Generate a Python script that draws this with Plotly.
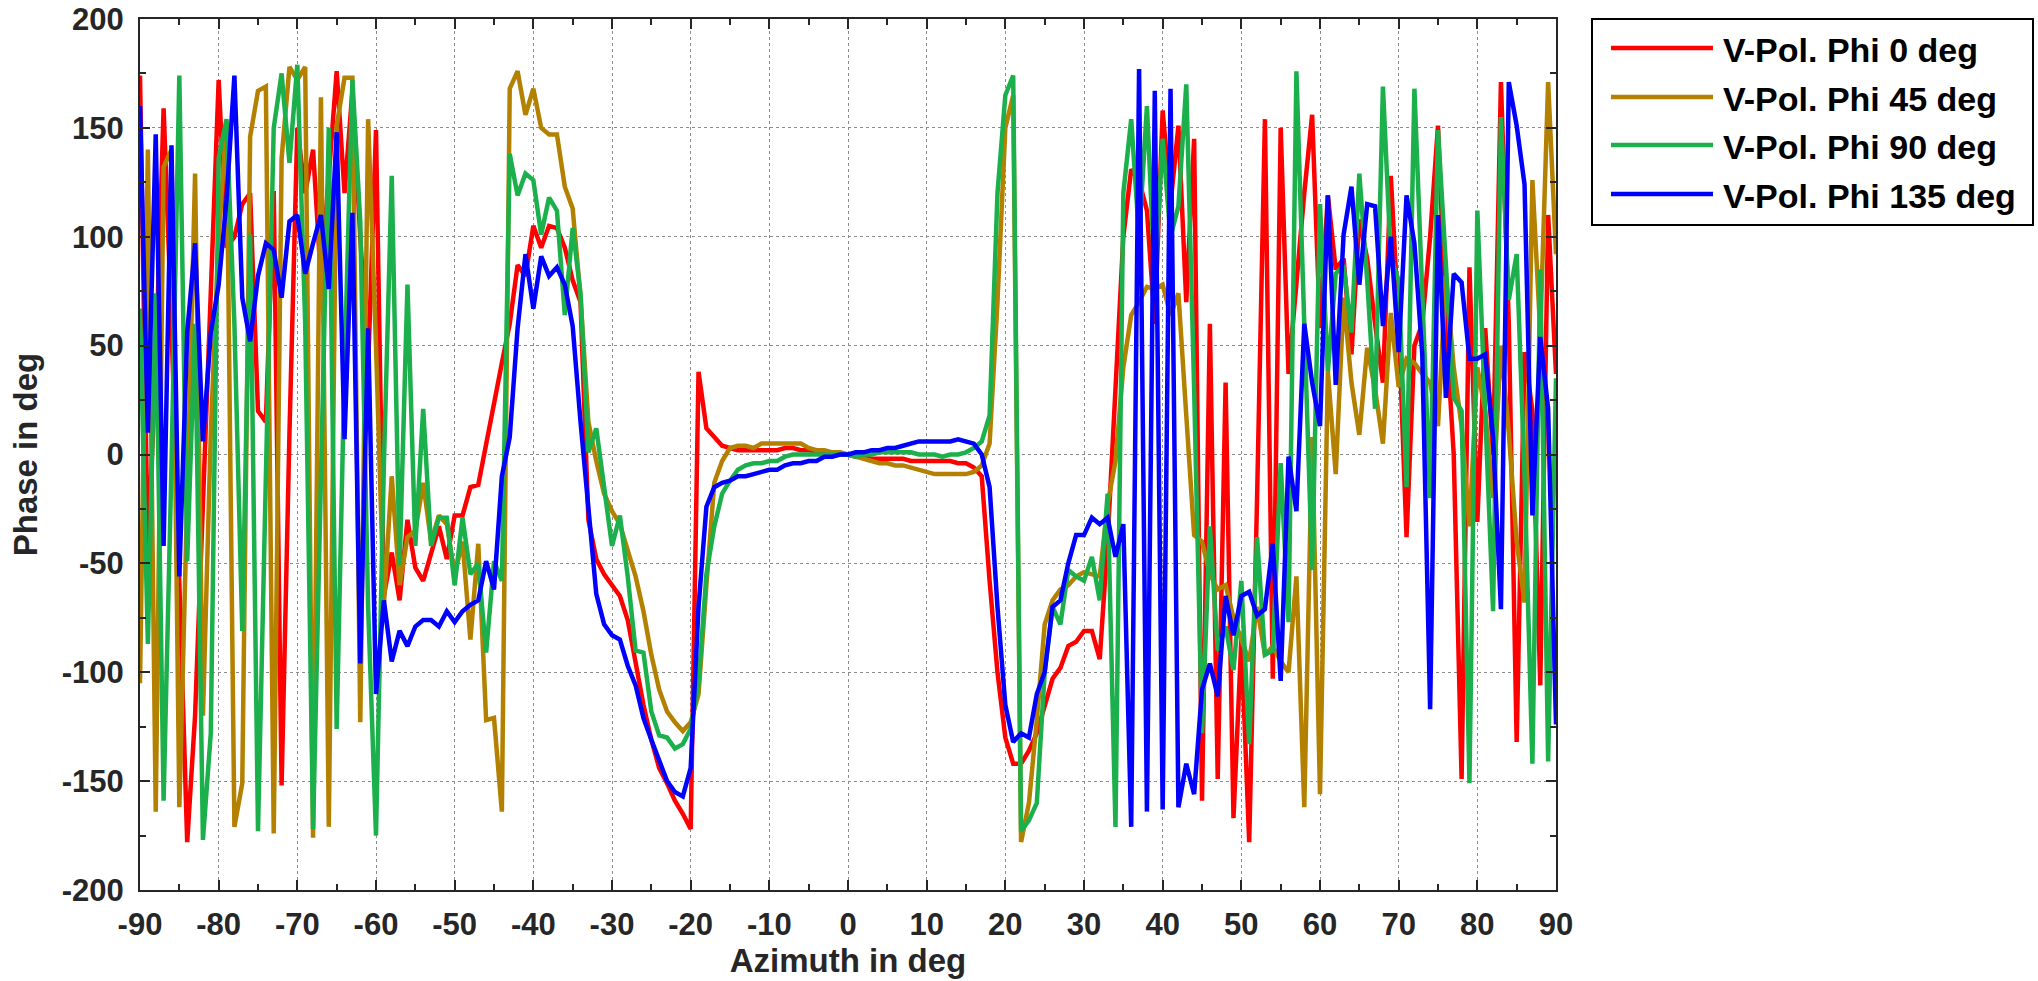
import plotly.graph_objects as go

# ---------------- data ----------------
azimuth_deg = list(range(-90, 91))

phase_phi0 = [
    174, -45, 40, 159, 60, -60, -178, -120, -20, 80,
    172, 95, 100, 115, 120, 20, 15, 121, -152, 10,
    150, 120, 140, 80, 130, 176, 120, 167, 100, 40,
    149, -65, -45, -67, -30, -52, -58, -45, -33, -48,
    -28, -28, -15, -14, 5, 25, 42, 60, 87, 82,
    105, 95, 105, 104, 95, 80, 70, -30, -48, -55,
    -60, -65, -76, -97, -115, -131, -144, -151, -159, -165,
    -172, 38, 12, 8, 4, 3, 2, 2, 2, 2,
    2, 2, 3, 3, 2, 2, 1, 1, 1, 0,
    0, -1, -1, -2, -2, -2, -2, -2, -3, -3,
    -3, -3, -3, -3, -4, -4, -6, -10, -58, -100,
    -130, -142, -142, -136, -128, -115, -103, -98, -88, -86,
    -81, -81, -94, -40, 30, 100, 131, 126, 112, 60,
    158, 115, 151, 70, 145, -159, 60, -149, 33, -167,
    -85, -178, -20, 154, -103, 150, 37, 80, 120, 156,
    58, 119, 85, 90, 46, 108, 90, 60, 33, 128,
    60, -38, 50, 60, 100, 151, 60, 0, -149, 86,
    -31, 58, 0, 171, 60, -132, 47, 20, -106, 110,
    37,
]

phase_phi45 = [
    -105, 140, -164, 132, 140, -162, -20, 129, -120, 10,
    100, 153, -171, -151, 146, 167, 169, -174, 136, 178,
    172, 178, -176, 164, -171, 151, 173, 173, -123, 154,
    50, -69, -10, -60, -38, -35, -13, -40, -28, -32,
    -55, -40, -85, -41, -122, -121, -164, 168, 176, 156,
    168, 150, 147, 147, 123, 113, 72, 15, -3, -18,
    -26, -32, -44, -56, -72, -92, -108, -118, -123, -127,
    -123, -110, -60, -13, -3, 3, 4, 4, 3, 5,
    5, 5, 5, 5, 5, 3, 2, 2, 1, 1,
    0, -1, -2, -3, -4, -4, -5, -5, -6, -7,
    -8, -9, -9, -9, -9, -9, -8, -5, 5, 70,
    150, 165, -178, -160, -122, -78, -67, -62, -60, -56,
    -54, -55, -56, -23, -3, 40, 64, 70, 77, 76,
    78, 64, 74, 18, -37, -40, -55, -62, -60, -75,
    -85, -95, -70, -92, -88, -95, -100, -56, -162, 8,
    -156, 38, -9, 72, 33, 9, 49, 30, 5, 65,
    31, 44, 42, 37, 33, 13, 82, 40, 13, -33,
    40, 20, -20, 50, 10, -40, -68, 126, 56, 171,
    92,
]

phase_phi90 = [
    67, -87, 74, -159, -5, 174, -49, 60, -177, -128,
    136, 154, 60, -81, 101, -173, -10, 150, 175, 134,
    179, 60, -172, -20, 150, -126, 40, 172, 107, -70,
    -175, -5, 128, -51, 78, -42, 21, -42, -29, -29,
    -60, -29, -55, -50, -91, -49, -58, 138, 119, 129,
    126, 101, 118, 112, 64, 104, 74, 1, 12, -15,
    -42, -28, -56, -90, -91, -118, -129, -130, -135, -133,
    -126, -105, -55, -33, -18, -12, -7, -5, -4, -4,
    -3, -3, -1, 0, 0, 0, 0, 0, 0, 0,
    0, -1, 0, 0, 1, 1, 1, 1, 1, 0,
    0, 0, -1, 0, 0, 1, 3, 6, 18, 120,
    165, 174, -173, -168, -160, -100, -70, -78, -53, -56,
    -58, -47, -67, -18, -171, 120, 154, 100, 160, 80,
    145, 100, 114, 170, 30, -128, -33, -90, -79, -99,
    -58, -133, -38, -92, -90, -4, -77, 176, 60, -53,
    115, 38, 83, 87, 56, 129, 80, 21, 169, 90,
    80, -15, 168, 80, -20, 149, 90, 26, 20, -151,
    112, 20, -72, 155, 71, 92, -10, -142, 85, -141,
    35,
]

phase_phi135 = [
    160, 10, 147, -42, 142, -56, 56, 97, 6, 56,
    78, 117, 174, 72, 52, 82, 97, 94, 72, 107,
    110, 83, 97, 110, 76, 148, 7, 111, -96, 58,
    -110, -67, -95, -81, -88, -79, -76, -76, -79, -72,
    -77, -72, -69, -67, -49, -62, -10, 8, 58, 92,
    67, 91, 82, 86, 78, 59, 15, -25, -64, -78,
    -83, -85, -97, -106, -121, -131, -141, -150, -155, -157,
    -144, -70, -24, -15, -13, -12, -10, -10, -9, -8,
    -7, -7, -5, -4, -4, -3, -3, -1, -1, 0,
    0, 1, 1, 2, 2, 3, 3, 4, 5, 6,
    6, 6, 6, 6, 7, 6, 5, 0, -15, -70,
    -115, -132, -128, -130, -110, -100, -70, -67, -50, -37,
    -37, -29, -32, -29, -47, -32, -171, 177, -164, 167,
    -163, 168, -162, -142, -156, -108, -96, -111, -65, -83,
    -65, -63, -74, -71, -41, -104, -1, -26, 60, 33,
    13, 119, 32, 101, 123, 78, 115, 114, 59, 100,
    47, 119, 97, 46, -117, 110, 26, 83, 79, 44,
    44, 46, 8, -71, 171, 151, 124, -28, 54, 21,
    -124,
]

series_names = ["V-Pol. Phi 0 deg", "V-Pol. Phi 45 deg",
                "V-Pol. Phi 90 deg", "V-Pol. Phi 135 deg"]
series_values = [phase_phi0, phase_phi45, phase_phi90, phase_phi135]

x_tick_values = [-90, -80, -70, -60, -50, -40, -30, -20, -10, 0, 10, 20, 30, 40, 50, 60, 70, 80, 90]
x_tick_labels = ["-90", "-80", "-70", "-60", "-50", "-40", "-30", "-20", "-10", "0",
                 "10", "20", "30", "40", "50", "60", "70", "80", "90"]
y_tick_values = [-200, -150, -100, -50, 0, 50, 100, 150, 200]
y_tick_labels = ["-200", "-150", "-100", "-50", "0", "50", "100", "150", "200"]

x_title = "Azimuth in deg"
y_title = "Phase in deg"

for s in series_values:
    assert len(s) == len(azimuth_deg)

# ---------------- style ----------------
W, H = 2038, 981
L, R, T, B = 140, 1556, 19, 890
colors = ["#ff0000", "#b38000", "#1cb04c", "#0000ff"]
axis_col = "#262626"
FONT = "Liberation Sans, Arial, sans-serif"

fig = go.Figure()
for name, vals, col in zip(series_names, series_values, colors):
    fig.add_trace(go.Scatter(x=azimuth_deg, y=vals, mode="lines", name=name,
                             line=dict(color=col, width=4.5), showlegend=False))

common_axis = dict(
    showline=True, linecolor=axis_col, linewidth=2, mirror="allticks",
    ticks="inside", ticklen=10, tickwidth=2, tickcolor=axis_col,
    showgrid=True, gridcolor="#8c8c8c", gridwidth=1, griddash="dot",
    zeroline=False,
    tickfont=dict(family=FONT, size=31, color=axis_col, weight="bold"),
)

fig.update_xaxes(
    range=[-90, 90], tickmode="array", tickvals=x_tick_values, ticktext=x_tick_labels,
    minor=dict(dtick=5, tick0=0, ticks="inside", ticklen=6, tickwidth=2,
               tickcolor=axis_col, showgrid=False),
    ticklabelstandoff=6,
    title=dict(text=x_title, standoff=6,
               font=dict(family=FONT, size=33, color=axis_col, weight="bold")),
    **common_axis)
fig.update_yaxes(
    range=[-200, 200], tickmode="array", tickvals=y_tick_values, ticktext=y_tick_labels,
    minor=dict(dtick=25, tick0=0, ticks="inside", ticklen=6, tickwidth=2,
               tickcolor=axis_col, showgrid=False),
    ticklabelstandoff=8,
    title=dict(text=y_title, standoff=14,
               font=dict(family=FONT, size=33, color=axis_col, weight="bold")),
    **common_axis)

# ---------------- custom legend (long line samples like the original) ----------------
def px_x(p):
    return (p - L) / (R - L)


def px_y(p):
    return (B - p) / (B - T)


fig.add_shape(type="rect", xref="paper", yref="paper",
              x0=px_x(1592), x1=px_x(2033), y0=px_y(225), y1=px_y(19),
              line=dict(color="#000000", width=2), fillcolor="white", layer="above")
row_y = [48, 97, 145, 194]
for name, col, yy in zip(series_names, colors, row_y):
    fig.add_shape(type="line", xref="paper", yref="paper",
                  x0=px_x(1611), x1=px_x(1713), y0=px_y(yy), y1=px_y(yy),
                  line=dict(color=col, width=4.5), layer="above")
    fig.add_annotation(xref="paper", yref="paper", x=px_x(1721), y=px_y(yy + 2),
                       xanchor="left", yanchor="middle", showarrow=False,
                       text=name, font=dict(family=FONT, size=34, color="#000000", weight="bold"))

fig.update_layout(
    width=W, height=H,
    margin=dict(l=L, r=W - R, t=T, b=H - B, autoexpand=False),
    paper_bgcolor="white", plot_bgcolor="white",
    showlegend=False,
)

fig.write_html("out.html")
